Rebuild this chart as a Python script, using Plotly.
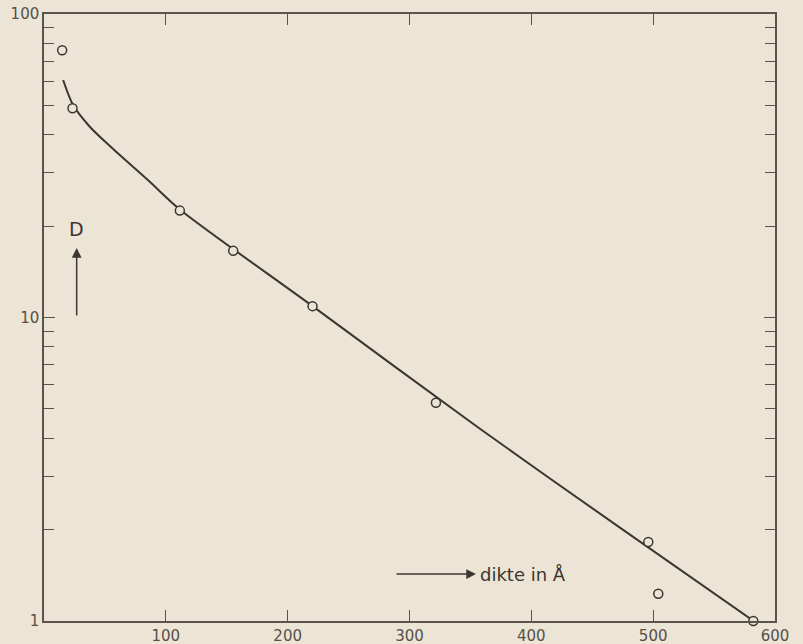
import plotly.graph_objects as go

# measured points (thickness in Å, D)
x_points = [14.9, 23.4, 111.5, 155.3, 220.4, 321.7, 496.0, 504.2, 582.2]
d_points = [76.0, 48.9, 22.5, 16.6, 10.9, 5.24, 1.82, 1.23, 1.0]

# fitted curve
x_curve = [15.7, 23.9, 37.6, 55.4, 86.8, 111.5, 220.4, 357.8, 472.7, 584.0]
d_curve = [60.6, 50.1, 42.5, 36.3, 28.0, 22.7, 10.9, 4.30, 2.03, 0.99]

x_ticks = [100, 200, 300, 400, 500, 600]
y_ticks = [1, 10, 100]
y_minor = [2, 3, 4, 5, 6, 7, 8, 9, 20, 30, 40, 50, 60, 70, 80, 90]

BG = "#ece4d5"
INK = "#3b3632"
AX = "#5a544d"
FONT = "DejaVu Sans"

fig = go.Figure()
fig.add_trace(go.Scatter(
    x=x_curve, y=d_curve, mode="lines",
    line=dict(color=INK, width=2, shape="spline", smoothing=0.8),
    hoverinfo="skip", showlegend=False,
))
fig.add_trace(go.Scatter(
    x=x_points, y=d_points, mode="markers",
    marker=dict(symbol="circle", size=9, color=BG, line=dict(color=INK, width=1.5)),
    showlegend=False, cliponaxis=False,
))

fig.update_layout(
    width=803, height=644,
    margin=dict(l=44, r=28, t=14, b=23, autoexpand=False),
    paper_bgcolor=BG, plot_bgcolor=BG,
    font=dict(family=FONT, color="#56504a", size=15),
    xaxis=dict(
        range=[0, 600], tickvals=x_ticks, ticktext=[str(v) for v in x_ticks],
        ticks="inside", ticklen=11, tickwidth=1.2, tickcolor=AX,
        showline=True, linecolor=AX, linewidth=1.5, mirror="ticks",
        showgrid=False, zeroline=False, automargin=False,
    ),
    yaxis=dict(
        type="log", range=[0, 2], tickvals=y_ticks, ticktext=[str(v) for v in y_ticks],
        ticks="inside", ticklen=11, tickwidth=1.2, tickcolor=AX,
        showline=True, linecolor=AX, linewidth=1.5, mirror="ticks",
        showgrid=False, zeroline=False, automargin=False,
        minor=dict(tickvals=y_minor, ticks="inside", ticklen=10, tickwidth=1.2, tickcolor=AX, showgrid=False),
    ),
)

# D arrow (pointing up)
fig.add_annotation(xref="paper", yref="paper", x=0.0447, y=0.6145, ax=0, ay=69,
                   text="", showarrow=True, arrowhead=2, arrowsize=1.3, arrowwidth=1.5, arrowcolor=INK)
fig.add_annotation(xref="paper", yref="paper", x=0.0447, y=0.646, text="D", showarrow=False,
                   font=dict(size=19, family=FONT, color=INK), yanchor="middle", xanchor="center")

# x-axis label with arrow
fig.add_annotation(xref="paper", yref="paper", x=0.591, y=0.0774, ax=-81, ay=0,
                   text="", showarrow=True, arrowhead=2, arrowsize=1.3, arrowwidth=1.5, arrowcolor=INK)
fig.add_annotation(xref="paper", yref="paper", x=0.594, y=0.0774, text="dikte in Å", showarrow=False,
                   font=dict(size=18, family=FONT, color=INK), xanchor="left", yanchor="middle")

fig.write_html("out.html")
